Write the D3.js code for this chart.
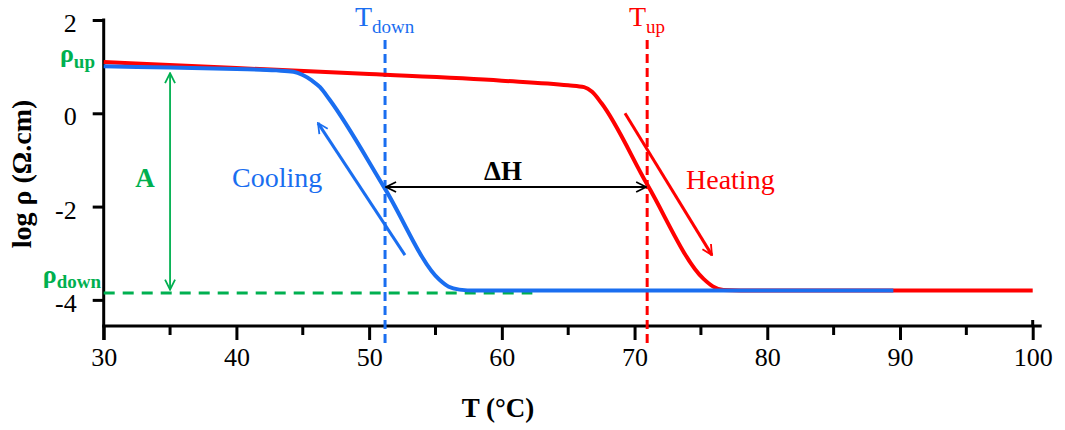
<!DOCTYPE html>
<html>
<head>
<meta charset="utf-8">
<script src="https://cdn.jsdelivr.net/npm/d3@7"></script>
<style>
  body { margin: 0; background: #fff; }
  svg text { font-family: "Times New Roman", "Liberation Serif", "DejaVu Serif", serif !important; }
</style>
</head>
<body>
<script>
// heating curve (red)
const heatT = [30, 40, 50, 60, 65, 66.2, 66.8, 67.5, 71, 75.2, 75.9, 76.7, 78, 100];
const heatV = [1.10, 0.97, 0.84, 0.70, 0.60, 0.56, 0.46, 0.22, -1.55, -3.55, -3.71, -3.79, -3.80, -3.80];

// cooling curve (blue)
const coolT = [30, 35, 40, 43, 44.3, 45, 45.7, 46.3, 47, 51.2, 55.3, 56, 56.8, 58, 89.5];
const coolV = [1.01, 0.98, 0.95, 0.92, 0.89, 0.82, 0.70, 0.56, 0.30, -1.62, -3.57, -3.72, -3.78, -3.80, -3.80];

const xMajor = [30, 40, 50, 60, 70, 80, 90, 100];
const xMinor = [35, 45, 55, 65, 75, 85, 95];
const yMajor = [-4, -2, 0, 2];

const Tdown = 51.2;
const Tup = 70.95;
const rhoDown = -3.85;
const dH = -1.58;

const w = 1065;
const h = 430;
const red = "#ff0000";
const blue = "#1a6ef0";
const green = "#00b050";

const x = d3.scaleLinear().domain([30, 100]).range([103.7, 1032.7]);
const y = d3.scaleLinear().domain([-4.56, 2]).range([326, 20]);

const svg = d3.select("body").append("svg").attr("width", w).attr("height", h);

const defs = svg.append("defs");
function marker(id, color) {
  defs.append("marker")
    .attr("id", id)
    .attr("viewBox", "0 0 12 12")
    .attr("refX", 11).attr("refY", 6)
    .attr("markerWidth", 12).attr("markerHeight", 12)
    .attr("markerUnits", "userSpaceOnUse")
    .attr("orient", "auto-start-reverse")
    .append("path")
    .attr("d", "M1,1 L11,6 L1,11")
    .attr("fill", "none")
    .attr("stroke", color)
    .attr("stroke-width", 1.8);
}
marker("arG", green);
marker("arK", "#000");
marker("arB", blue);
marker("arR", red);

// axes
const xAxis = d3.axisBottom(x).tickValues(xMajor).tickSize(14).tickPadding(8).tickSizeOuter(0);
const gx = svg.append("g").attr("transform", "translate(0," + y(-4.56) + ")").call(xAxis);
gx.attr("font-family", null);
gx.select(".domain").remove();
gx.selectAll(".tick line").attr("stroke-width", 3);
gx.selectAll("text").attr("font-size", 26).attr("fill", "#000");
gx.selectAll(".minor").data(xMinor).enter().append("line")
  .attr("x1", (d) => x(d)).attr("x2", (d) => x(d))
  .attr("y1", 0).attr("y2", 9)
  .attr("stroke", "#000").attr("stroke-width", 3);
gx.append("line").attr("x1", x(30) - 1.5).attr("x2", x(100) + 9).attr("y1", 0).attr("y2", 0)
  .attr("stroke", "#000").attr("stroke-width", 3);
gx.append("line").attr("x1", x(100)).attr("x2", x(100)).attr("y1", -6).attr("y2", 0)
  .attr("stroke", "#000").attr("stroke-width", 3);

const yAxis = d3.axisLeft(y).tickValues(yMajor).tickSize(11).tickPadding(16).tickSizeOuter(0)
  .tickFormat((d) => (d < 0 ? "-" + Math.abs(d) : d));
const gy = svg.append("g").attr("transform", "translate(" + x(30) + ",0)").call(yAxis);
gy.attr("font-family", null);
gy.select(".domain").remove();
gy.selectAll(".tick line").attr("stroke-width", 3);
gy.selectAll("text").attr("font-size", 26).attr("fill", "#000").attr("dy", "0.45em");
gy.append("line").attr("x1", 0).attr("x2", 0).attr("y1", y(2) - 1.5).attr("y2", y(-4.56) + 14)
  .attr("stroke", "#000").attr("stroke-width", 3);

// axis titles
svg.append("text").attr("x", 498).attr("y", 417).attr("text-anchor", "middle")
  .attr("font-size", 27).attr("font-weight", "bold").text("T (°C)");
svg.append("text").attr("transform", "translate(31,174) rotate(-90)").attr("text-anchor", "middle")
  .attr("font-size", 28).attr("font-weight", "bold").text("log ρ (Ω.cm)");

// green reference
svg.append("line")
  .attr("x1", x(30)).attr("x2", x(62.3)).attr("y1", y(rhoDown)).attr("y2", y(rhoDown))
  .attr("stroke", green).attr("stroke-width", 3).attr("stroke-dasharray", "11,8");
svg.append("line")
  .attr("x1", x(35)).attr("x2", x(35)).attr("y1", y(0.86)).attr("y2", y(-3.78))
  .attr("stroke", green).attr("stroke-width", 1.8)
  .attr("marker-start", "url(#arG)").attr("marker-end", "url(#arG)");

// transition lines
svg.append("line")
  .attr("x1", x(Tdown)).attr("x2", x(Tdown)).attr("y1", 40).attr("y2", y(-4.56) + 17)
  .attr("stroke", blue).attr("stroke-width", 3).attr("stroke-dasharray", "9,5");
svg.append("line")
  .attr("x1", x(Tup)).attr("x2", x(Tup)).attr("y1", 40).attr("y2", y(-4.56) + 17)
  .attr("stroke", red).attr("stroke-width", 3).attr("stroke-dasharray", "9,5");

// curves
const line = d3.line().x((d) => x(d[0])).y((d) => y(d[1])).curve(d3.curveMonotoneX);
svg.append("path").datum(d3.zip(heatT, heatV)).attr("d", line)
  .attr("fill", "none").attr("stroke", red).attr("stroke-width", 4);
svg.append("path").datum(d3.zip(coolT, coolV)).attr("d", line)
  .attr("fill", "none").attr("stroke", blue).attr("stroke-width", 4);

// delta H arrow
svg.append("line")
  .attr("x1", x(Tdown) + 1).attr("x2", x(Tup) - 1).attr("y1", y(dH)).attr("y2", y(dH))
  .attr("stroke", "#000").attr("stroke-width", 2)
  .attr("marker-start", "url(#arK)").attr("marker-end", "url(#arK)");

// direction arrows
svg.append("line")
  .attr("x1", x(52.7)).attr("y1", y(-3.04)).attr("x2", x(46.15)).attr("y2", y(-0.21))
  .attr("stroke", blue).attr("stroke-width", 3).attr("marker-end", "url(#arB)");
svg.append("line")
  .attr("x1", x(69.28)).attr("y1", y(0.0)).attr("x2", x(75.83)).attr("y2", y(-3.04))
  .attr("stroke", red).attr("stroke-width", 3).attr("marker-end", "url(#arR)");

// labels
function sub(xp, yp, main, subText, color, bold, size, subSize, drop, anchor) {
  const t = svg.append("text").attr("x", xp).attr("y", yp).attr("fill", color)
    .attr("font-size", size).attr("text-anchor", anchor || "start");
  if (bold) t.attr("font-weight", "bold");
  t.append("tspan").text(main);
  t.append("tspan").attr("dy", drop).attr("font-size", subSize).text(subText);
}
sub(355, 26, "T", "down", blue, false, 28, 19, 7);
sub(629, 26, "T", "up", red, false, 28, 19, 7);
sub(95, 62, "ρ", "up", green, true, 26, 19, 6, "end");
sub(101, 283, "ρ", "down", green, true, 26, 19, 5, "end");

svg.append("text").attr("x", 145).attr("y", 187).attr("text-anchor", "middle")
  .attr("font-size", 27).attr("font-weight", "bold").attr("fill", green).text("A");
svg.append("text").attr("x", 503).attr("y", 180).attr("text-anchor", "middle")
  .attr("font-size", 27).attr("font-weight", "bold").text("ΔH");
svg.append("text").attr("x", 232).attr("y", 187)
  .attr("font-size", 28).attr("fill", blue).text("Cooling");
svg.append("text").attr("x", 686).attr("y", 189)
  .attr("font-size", 28).attr("fill", red).text("Heating");
</script>
</body>
</html>
